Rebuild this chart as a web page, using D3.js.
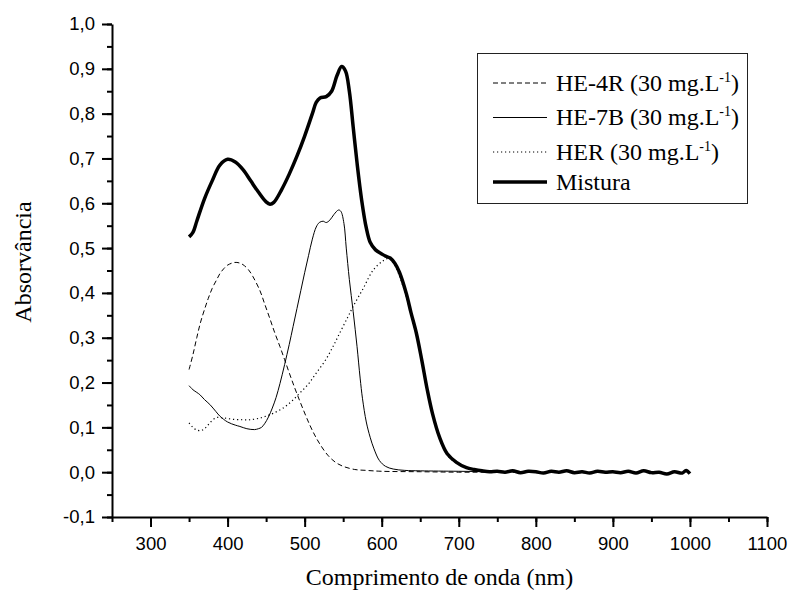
<!DOCTYPE html>
<html>
<head>
<meta charset="utf-8">
<script src="https://cdn.jsdelivr.net/npm/d3@7"></script>
<style>
  body { margin: 0; background: #fff; }
  svg text { fill: #000; }
</style>
</head>
<body>
<div class="visHolder"></div>
<script>
// wavelength (nm) / absorbance pairs
var he4rNm  = [350,355,360,365,371,375,380,386,390,395,400,409,415,420,427,433,442,448,455,461,468,474,482,490,500,507,513,520,530,540,550,565,580,600,650,700,750,800];
var he4rAbs = [0.229,0.262,0.3,0.335,0.368,0.388,0.41,0.43,0.443,0.454,0.462,0.468,0.467,0.463,0.452,0.436,0.405,0.376,0.342,0.312,0.28,0.251,0.212,0.175,0.132,0.104,0.083,0.062,0.038,0.022,0.013,0.006,0.004,0.002,0.001,0.0,0.0,0.0];

var he7bNm  = [350,355,360,364,370,377,385,390,400,410,416,425,435,440,444,448,453,458,463,468,474,480,485,490,495,500,505,510,515,519,524,528,533,538,544,547,551,554,558,563,568,572,575,580,585,590,597,605,615,630,650,700,750,800];
var he7bAbs = [0.193,0.184,0.178,0.173,0.162,0.151,0.135,0.125,0.112,0.105,0.102,0.097,0.095,0.097,0.1,0.108,0.123,0.143,0.167,0.198,0.24,0.285,0.325,0.365,0.405,0.445,0.483,0.52,0.547,0.557,0.56,0.557,0.563,0.575,0.585,0.582,0.555,0.5,0.43,0.358,0.28,0.21,0.165,0.112,0.078,0.052,0.026,0.013,0.007,0.004,0.003,0.002,0.001,0.001];

var herNm  = [350,355,360,366,372,378,386,395,407,420,429,440,450,460,472,483,494,505,515,527,537,546,556,563,576,589,602,610,617,625,632,638,645,652,659,666,675,685,697,710,720,740,800];
var herAbs = [0.11,0.1,0.094,0.093,0.1,0.112,0.122,0.121,0.118,0.117,0.117,0.12,0.125,0.132,0.143,0.158,0.177,0.197,0.221,0.25,0.281,0.312,0.346,0.37,0.41,0.451,0.472,0.477,0.462,0.428,0.39,0.348,0.306,0.247,0.182,0.127,0.075,0.038,0.02,0.009,0.005,0.002,0.001];

var mixNm  = [350,355,360,370,380,390,400,410,420,430,440,450,455,460,470,480,490,500,510,515,520,528,535,542,548,553,558,563,568,574,580,585,592,600,605,611,617,623,632,638,645,652,659,666,675,685,697,710,720,730,740,
              750,760,770,780,790,800,810,820,830,840,850,860,870,880,890,900,910,920,930,940,950,960,970,980,990,995,1000];
var mixAbs = [0.525,0.535,0.56,0.61,0.65,0.685,0.698,0.692,0.675,0.65,0.625,0.603,0.598,0.602,0.63,0.665,0.705,0.75,0.8,0.825,0.835,0.838,0.85,0.885,0.905,0.895,0.85,0.77,0.69,0.607,0.545,0.513,0.496,0.487,0.482,0.478,0.466,0.446,0.398,0.356,0.31,0.25,0.185,0.13,0.078,0.041,0.022,0.01,0.006,0.003,0.001,
              0.002,0.0,0.003,-0.001,0.002,0.001,-0.002,0.002,0.0,0.003,-0.001,0.001,-0.002,0.002,0.0,0.001,-0.001,0.002,-0.002,0.003,-0.001,0.0,-0.004,0.001,-0.002,0.004,-0.003];

var xTicks = [300,400,500,600,700,800,900,1000,1100];
var yTicks = [-0.1,0.0,0.1,0.2,0.3,0.4,0.5,0.6,0.7,0.8,0.9,1.0];

var seriesNames = ["HE-4R (30 mg.L", "HE-7B (30 mg.L", "HER (30 mg.L", "Mistura"];

var W = 790, H = 592;
var margin = { top: 24, right: 23, bottom: 75, left: 112 };

var svg = d3.select(".visHolder").append("svg")
  .attr("width", W).attr("height", H);

var x = d3.scaleLinear().domain([250, 1100]).range([margin.left, W - margin.right]);
var y = d3.scaleLinear().domain([-0.1, 1.0]).range([H - margin.bottom, margin.top]);

var fmt = function (d) { return d3.format(".1f")(d).replace(".", ",").replace("\u2212", "-"); };

// minor ticks first
svg.append("g")
  .attr("transform", "translate(0," + y(-0.1) + ")")
  .call(d3.axisBottom(x).tickValues(d3.range(250, 1101, 50)).tickSize(5).tickFormat(""))
  .call(function (g) { g.select(".domain").remove(); })
  .selectAll("line").attr("stroke-width", 2);
svg.append("g")
  .attr("transform", "translate(" + x(250) + ",0)")
  .call(d3.axisLeft(y).tickValues(d3.range(-0.1, 1.001, 0.05)).tickSize(5).tickFormat(""))
  .call(function (g) { g.select(".domain").remove(); })
  .selectAll("line").attr("stroke-width", 2);

// major ticks + labels
var xAxis = svg.append("g")
  .attr("transform", "translate(0," + y(-0.1) + ")")
  .call(d3.axisBottom(x).tickValues(xTicks).tickFormat(d3.format("d")).tickSize(10).tickSizeOuter(0).tickPadding(10));
var yAxis = svg.append("g")
  .attr("transform", "translate(" + x(250) + ",0)")
  .call(d3.axisLeft(y).tickValues(yTicks).tickFormat(fmt).tickSize(10).tickSizeOuter(0).tickPadding(7));

[xAxis, yAxis].forEach(function (g) {
  g.select(".domain").attr("stroke-width", 2);
  g.selectAll(".tick line").attr("stroke-width", 2);
  g.selectAll("text")
    .style("font-family", "'Liberation Sans', Arial, sans-serif")
    .style("font-size", "18.5px");
});

// axis titles
svg.append("text")
  .attr("x", (x(250) + x(1100)) / 2).attr("y", 585)
  .attr("text-anchor", "middle")
  .style("font-family", "'Liberation Serif', 'Times New Roman', serif")
  .style("font-size", "24px")
  .text("Comprimento de onda (nm)");
svg.append("text")
  .attr("transform", "translate(31," + 262 + ") rotate(-90)")
  .attr("text-anchor", "middle")
  .style("font-family", "'Liberation Serif', 'Times New Roman', serif")
  .style("font-size", "24px")
  .text("Absorvância");

// curves
var line = d3.line()
  .x(function (d) { return x(d[0]); })
  .y(function (d) { return y(d[1]); })
  .curve(d3.curveCatmullRom.alpha(0.5));

var series = [
  { nm: he4rNm, abs: he4rAbs, w: 1, dash: "5,3" },
  { nm: he7bNm, abs: he7bAbs, w: 1, dash: null },
  { nm: herNm,  abs: herAbs,  w: 1.2, dash: "1.2,2.8" },
  { nm: mixNm,  abs: mixAbs,  w: 3.5, dash: null }
];

series.forEach(function (s) {
  var pts = d3.zip(s.nm, s.abs);
  svg.append("path")
    .datum(pts)
    .attr("d", line)
    .attr("fill", "none")
    .attr("stroke", "#000")
    .attr("stroke-width", s.w)
    .attr("stroke-linejoin", "round")
    .attr("stroke-dasharray", s.dash);
});

// legend
var leg = svg.append("g");
leg.append("rect")
  .attr("x", 477.5).attr("y", 53.5).attr("width", 270).attr("height", 150)
  .attr("fill", "#fff").attr("stroke", "#222").attr("stroke-width", 1);

var rowY = [83, 117.5, 152, 182];
series.forEach(function (s, i) {
  leg.append("line")
    .attr("x1", 493).attr("x2", 547)
    .attr("y1", rowY[i]).attr("y2", rowY[i])
    .attr("stroke", "#000")
    .attr("stroke-width", s.w)
    .attr("stroke-dasharray", s.dash);
  var t = leg.append("text")
    .attr("x", 556).attr("y", rowY[i] + 7.5)
    .style("font-family", "'Liberation Serif', 'Times New Roman', serif")
    .style("font-size", "24px")
    .text(seriesNames[i]);
  if (i < 3) {
    t.append("tspan").attr("dy", -9).style("font-size", "14px").text("-1");
    t.append("tspan").attr("dy", 9).text(")");
  }
});
</script>
</body>
</html>
